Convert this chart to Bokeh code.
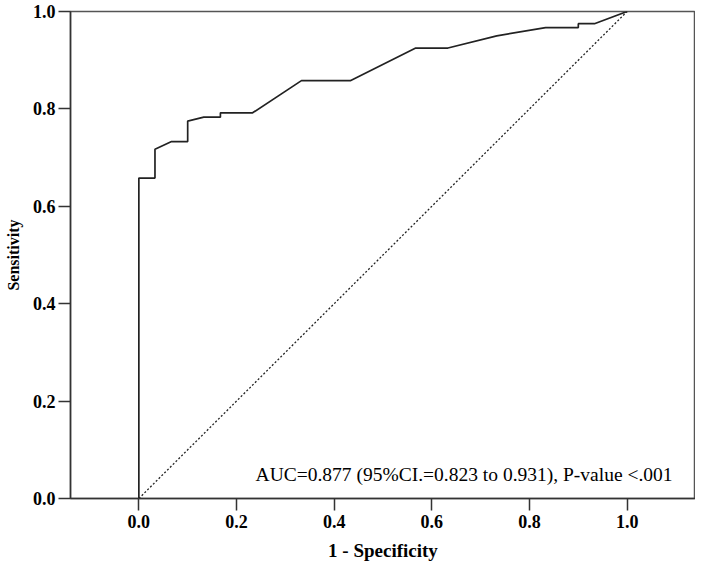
from bokeh.plotting import figure
from bokeh.models import Range1d, FixedTicker, Label
from bokeh.embed import file_html
from bokeh.resources import INLINE

# ROC curve
fpr = [0.0, 0.0, 0.033, 0.033, 0.067, 0.1, 0.1, 0.133, 0.167, 0.167, 0.233,
       0.333, 0.433, 0.567, 0.633, 0.733, 0.833, 0.9, 0.9, 0.933, 1.0]
tpr = [0.0, 0.658, 0.658, 0.717, 0.733, 0.733, 0.775, 0.783, 0.783, 0.792, 0.792,
       0.858, 0.858, 0.925, 0.925, 0.95, 0.967, 0.967, 0.975, 0.975, 1.0]

ref_x = [0.0, 1.0]
ref_y = [0.0, 1.0]

tick_values = [0.0, 0.2, 0.4, 0.6, 0.8, 1.0]
tick_labels = {0.0: "0.0", 0.2: "0.2", 0.4: "0.4", 0.6: "0.6", 0.8: "0.8", 1.0: "1.0"}

annotation_text = "AUC=0.877 (95%CI.=0.823 to 0.931), P-value <.001"

SERIF = "Liberation Serif"
DARK = "#333333"

p = figure(width=695, height=563, output_backend="svg", toolbar_location=None,
           x_range=Range1d(-0.14, 1.14), y_range=Range1d(0, 1),
           min_border_left=70, min_border_right=0, min_border_top=11, min_border_bottom=64)

p.background_fill_color = "white"
p.border_fill_color = "white"
p.outline_line_color = "#555555"
p.outline_line_width = 1.5
p.grid.visible = False

for ax in (p.xaxis[0], p.yaxis[0]):
    ax.ticker = FixedTicker(ticks=tick_values)
    ax.major_label_overrides = tick_labels
    ax.minor_tick_line_color = None
    ax.major_tick_in = 0
    ax.major_tick_out = 12
    ax.major_tick_line_color = DARK
    ax.major_tick_line_width = 1.5
    ax.axis_line_color = DARK
    ax.axis_line_width = 1.5
    ax.major_label_text_font = SERIF
    ax.major_label_text_font_style = "bold"
    ax.major_label_text_font_size = "18px"
    ax.major_label_text_color = "black"
    ax.axis_label_text_font = SERIF
    ax.axis_label_text_font_style = "bold"
    ax.axis_label_text_color = "black"

p.xaxis.axis_label = "1 - Specificity"
p.xaxis.axis_label_text_font_size = "19px"
p.xaxis.major_label_standoff = 4
p.xaxis.axis_label_standoff = 9

p.yaxis.axis_label = "Sensitivity"
p.yaxis.axis_label_text_font_size = "16px"
p.yaxis.major_label_standoff = 3
p.yaxis.axis_label_standoff = 8

p.line(ref_x, ref_y, line_color="#222222", line_width=1.3, line_dash="2 2")
p.line(fpr, tpr, line_color="#222222", line_width=1.7)

p.add_layout(Label(x=0.239, y=0.049, text=annotation_text,
                   text_font=SERIF, text_font_size="19.5px", text_color="black",
                   text_baseline="alphabetic", text_align="left"))

open("out.html", "w").write(file_html(p, INLINE))
